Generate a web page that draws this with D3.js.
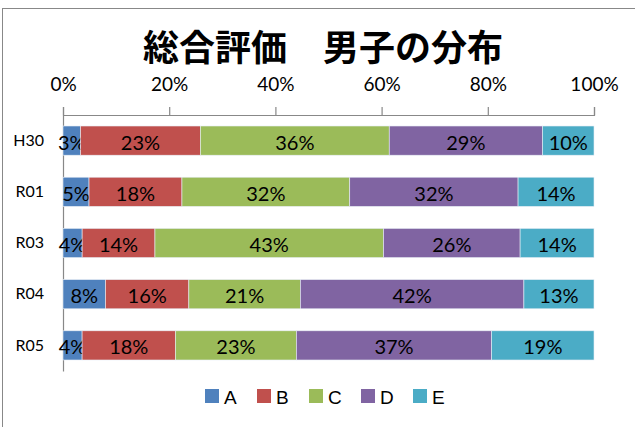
<!DOCTYPE html>
<html><head><meta charset="utf-8">
<script src="https://cdn.jsdelivr.net/npm/d3@7"></script>
<style>body{margin:0;background:#fff}svg{display:block}</style>
</head><body>
<svg id="c" width="635" height="427"></svg>
<script>
const categories = ["H30","R01","R03","R04","R05"];
const seriesNames = ["A","B","C","D","E"];
const A = [3.3, 4.9, 3.6, 8.0, 3.6];
const B = [22.6, 17.5, 13.7, 15.7, 17.6];
const C = [35.6, 31.6, 43.0, 21.0, 22.8];
const D = [28.9, 31.7, 25.7, 42.1, 36.8];
const E = [9.7, 14.3, 13.9, 13.2, 19.3];
const tickValues = [0, 0.2, 0.4, 0.6, 0.8, 1.0];
const colors = ["#4F81BD","#C0504D","#9BBB59","#8064A2","#4BACC6"];
const title = "総合評価　男子の分布";

(function(){
const seriesVals = [A,B,C,D,E];
const rows = categories.map((c,i)=>{
  const o = {cat:c};
  seriesNames.forEach((s,j)=>o[s]=seriesVals[j][i]);
  return o;
});
const stack = d3.stack().keys(seriesNames).offset(d3.stackOffsetExpand);
const stacked = stack(rows);

const svg = d3.select("#c");
const pL=63, pR=594, pT=115, pB=371;
const x = d3.scaleLinear().domain([0,1]).range([pL,pR]);
const y = d3.scaleBand().domain(categories).range([pT,pB]).paddingInner(0.43).paddingOuter(0.215);
const color = d3.scaleOrdinal().domain(seriesNames).range(colors);

// border
svg.append("rect").attr("x",2.5).attr("y",8.5).attr("width",640).attr("height",430)
  .attr("fill","none").attr("stroke","#888").attr("stroke-width",1);

// title
svg.append("text").attr("x",323).attr("y",61).attr("text-anchor","middle")
  .attr("font-family","'Noto Sans CJK JP'").attr("font-weight","bold").attr("font-size",36)
  .attr("fill","#000").text(title);

// top axis
const ax = svg.append("g").attr("transform",`translate(0,${pT})`)
  .call(d3.axisTop(x).tickValues(tickValues).tickFormat(d3.format(".0%")).tickSize(8).tickPadding(16));
ax.select(".domain").attr("stroke","#888").attr("stroke-width",1.2);
ax.selectAll(".tick line").attr("stroke","#888").attr("stroke-width",1.2);
ax.selectAll("text").attr("font-family","Lato").attr("font-size",19).attr("fill","#000");

// left axis line
const ay = svg.append("g").attr("transform",`translate(${pL},0)`)
  .call(d3.axisLeft(y).tickSize(0).tickPadding(19));
ay.select(".domain").attr("stroke","#888").attr("stroke-width",1.2);
ay.selectAll("text").attr("font-family","Lato").attr("font-size",16).attr("fill","#000");

// bars
const g = svg.append("g");
stacked.forEach(layer=>{
  const key = layer.key;
  layer.forEach((d,i)=>{
    g.append("rect")
      .attr("x",x(d[0])).attr("y",y(categories[i]))
      .attr("width",x(d[1])-x(d[0])).attr("height",y.bandwidth())
      .attr("fill",color(key)).attr("stroke","#e8eef6").attr("stroke-width",0.6);
    g.append("text")
      .attr("x",(x(d[0])+x(d[1]))/2).attr("y",y(categories[i])+y.bandwidth()/2+1)
      .attr("text-anchor","middle").attr("dominant-baseline","central")
      .attr("font-family","Lato").attr("font-size",20).attr("fill","#000")
      .text(Math.round(rows[i][key])+"%");
  });
});

// legend
const lg = svg.append("g");
seriesNames.forEach((s,j)=>{
  const lx = 205 + j*52;
  lg.append("rect").attr("x",lx).attr("y",389).attr("width",14).attr("height",14).attr("fill",color(s));
  lg.append("text").attr("x",lx+19).attr("y",397).attr("dominant-baseline","central")
    .attr("font-family","'Liberation Sans'").attr("font-size",19).attr("fill","#000").text(s);
});
})();
</script>
</body></html>
